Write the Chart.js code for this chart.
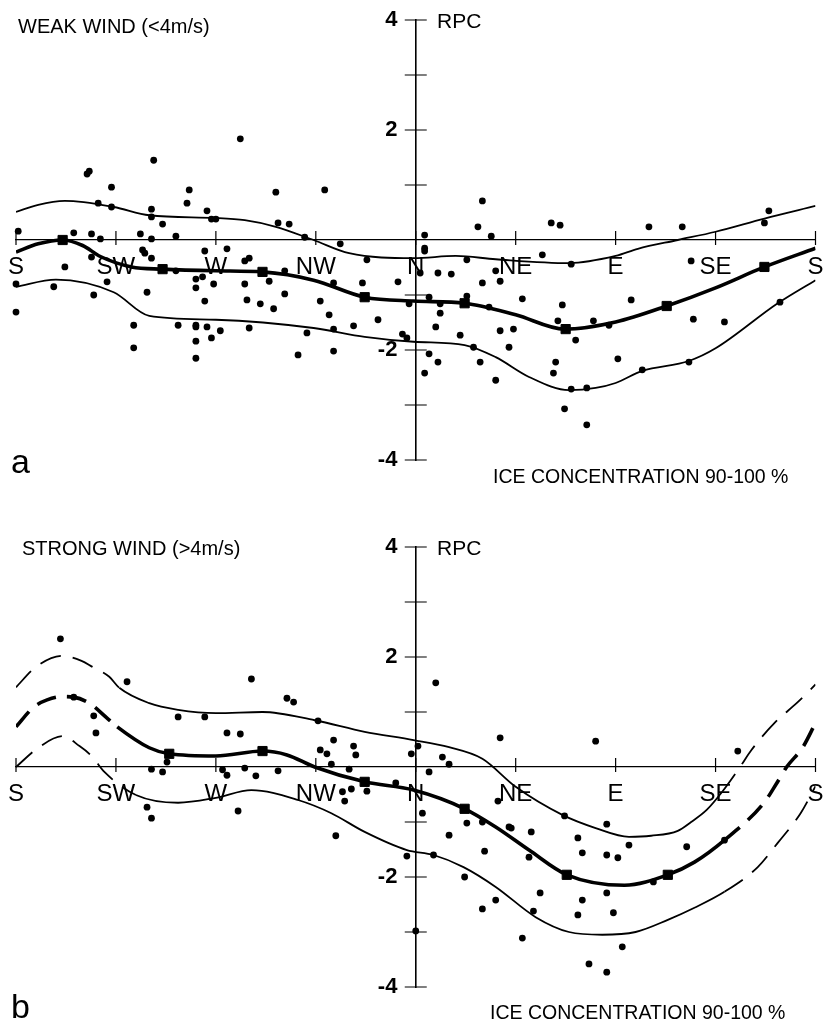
<!DOCTYPE html>
<html>
<head>
<meta charset="utf-8">
<script src="https://cdn.jsdelivr.net/npm/chart.js@4.4.1/dist/chart.umd.min.js"></script>
<style>
  body { margin: 0; background: #fff; width: 823px; height: 1025px; position: relative; overflow: hidden;
         font-family: "Liberation Sans", Arial, sans-serif; color: #000; }
  .panel { position: absolute; left: 0; }
  .panel canvas { display: block; }
  .lbl { position: absolute; line-height: 1; white-space: nowrap; }
</style>
</head>
<body>
<div class="panel" style="top:0"><canvas id="weakChart" width="823" height="500"></canvas></div>
<div class="panel" style="top:500px"><canvas id="strongChart" width="823" height="525"></canvas></div>

<div class="lbl" style="left:18px;top:16px;font-size:20px">WEAK WIND (&lt;4m/s)</div>
<div class="lbl" style="left:437px;top:10px;font-size:21px">RPC</div>
<div class="lbl" style="left:11px;top:444px;font-size:34px">a</div>
<div class="lbl" style="left:493px;top:467px;font-size:19.5px">ICE CONCENTRATION 90-100 %</div>

<div class="lbl" style="left:22px;top:538px;font-size:20px">STRONG WIND (&gt;4m/s)</div>
<div class="lbl" style="left:437px;top:537px;font-size:21px">RPC</div>
<div class="lbl" style="left:11px;top:989px;font-size:34px">b</div>
<div class="lbl" style="left:490px;top:1003px;font-size:19.5px">ICE CONCENTRATION 90-100 %</div>

<script>
// wind direction (deg, S=0 at left) vs RPC
const dirLabels = ['S', 'SW', 'W', 'NW', 'N', 'NE', 'E', 'SE', 'S'];
const yTickLabels = ['-4', '', '-2', '', '', '', '2', '', '4'];

// a: weak wind
const weakDots = [
  [101,1.84],[62,1.45],[32,1.2],[33,1.25],[43,0.96],[78,0.91],[117,0.87],[139,0.91],[37,0.67],[43,0.6],
  [77,0.67],[61,0.56],[86,0.53],[61,0.42],[66,0.29],[88,0.38],[90,0.38],[118,0.31],[123,0.29],[1,0.16],
  [26,0.13],[34,0.11],[38,0.02],[56,0.11],[61,0.02],[72,0.07],[130,0.05],[146,-0.07],
  [210,0.71],[208,0.24],[214,0.07],[184,0.09],[241,0.31],[245,0.27],[285,0.24],[300,0.24],[337,0.31],[339,0.53],[184,-0.15],
  [58,-0.24],[57,-0.18],[61,-0.33],[34,-0.31],[85,-0.2],[95,-0.16],[22,-0.49],[0,-0.8],[17,-0.85],[41,-0.76],
  [35,-1.0],[59,-0.95],[0,-1.31],[72,-0.56],[81,-0.71],[84,-0.67],[81,-0.87],[89,-0.8],[85,-1.11],[103,-0.38],
  [105,-0.33],[103,-0.8],[104,-1.09],[110,-1.16],[114,-0.75],[121,-0.56],[121,-0.98],[116,-1.25],[53,-1.55],
  [53,-1.96],[73,-1.55],[81,-1.55],[81,-1.58],[86,-1.58],[92,-1.65],[81,-1.84],[88,-1.78],[81,-2.15],[105,-1.6],
  [127,-2.09],[131,-1.69],[137,-1.11],[141,-1.36],[143,-0.78],[143,-1.62],[143,-2.02],[152,-1.56],[156,-0.78],
  [158,-0.36],[163,-1.45],[172,-0.76],[174,-1.71],[176,-1.78],[177,-1.16],
  [184,-0.2],[237,-0.27],[203,-0.36],[250,-0.44],[304,-0.38],[182,-0.6],[190,-0.6],[196,-0.62],[216,-0.56],
  [210,-0.78],[218,-0.75],[186,-1.04],[191,-1.16],[191,-1.33],[203,-1.02],[213,-1.22],[228,-1.07],[246,-1.18],
  [277,-1.09],[189,-1.58],[200,-1.73],[206,-1.95],[218,-1.65],[224,-1.62],[222,-1.95],[244,-1.47],[260,-1.47],
  [267,-1.55],[252,-1.82],[305,-1.44],[319,-1.49],[344,-1.13],[186,-2.07],[190,-2.22],[209,-2.22],[216,-2.55],
  [184,-2.42],[243,-2.22],[242,-2.42],[250,-2.71],[257,-2.69],[271,-2.16],[282,-2.36],[303,-2.22],[247,-3.07],[257,-3.36]
];
const weakMean = [
  [0,-0.22],[10,-0.07],[21,0],[30,-0.1],[38,-0.3],[52,-0.49],[66,-0.53],[90,-0.56],[111,-0.58],[134,-0.73],
  [157,-1.04],[179,-1.11],[202,-1.15],[225,-1.36],[247,-1.62],[270,-1.49],[293,-1.2],[315,-0.87],[337,-0.49],[360,-0.15]
];
const weakUpper = [
  [0,0.51],[10,0.64],[22,0.71],[44,0.6],[60,0.45],[90,0.4],[103,0.36],[117,0.24],[134,0],[150,-0.24],
  [179,-0.33],[198,-0.29],[216,-0.35],[249,-0.42],[270,-0.29],[280,-0.16],[298,0],[315,0.15],[337,0.39],[360,0.62]
];
const weakLower = [
  [0,-0.85],[18,-0.72],[44,-0.95],[60,-1.38],[90,-1.45],[134,-1.6],[157,-1.76],[179,-1.85],[202,-1.91],[216,-2.13],
  [231,-2.49],[249,-2.73],[261,-2.69],[270,-2.6],[282,-2.38],[303,-2.2],[315,-1.97],[343,-1.15],[360,-0.73]
];
const weakSquares = [[21,0],[66,-0.53],[111,-0.58],[157,-1.04],[202,-1.15],[247.5,-1.62],[293,-1.2],[337,-0.49]];

// b: strong wind
const strongDots = [
  [20,2.33],[50,1.55],[106,1.6],[122,1.25],[125,1.18],[26,1.27],[35,0.93],[36,0.62],[73,0.91],[85,0.91],
  [95,0.62],[101,0.6],[136,0.84],[143,0.49],[152,0.38],[137,0.31],[140,0.24],[153,0.22],[178,0.24],[189,1.53],
  [218,0.53],[261,0.47],[325,0.29],[181,0.38],[192,0.18],[142,0.05],[150,-0.04],[68,0.09],[61,-0.04],[66,-0.09],
  [93,-0.05],[95,-0.15],[103,-0.02],[108,-0.16],[118,-0.07],[147,-0.45],[151,-0.4],[148,-0.62],[158,-0.44],[171,-0.29],
  [59,-0.73],[61,-0.93],[100,-0.8],[144,-1.25],[176,-1.62],[180,-2.98],[195,0.05],[186,-0.09],[183,-0.84],[188,-1.6],
  [195,-1.24],[203,-1.02],[210,-1.0],[211,-1.53],[217,-0.62],[222,-1.09],[223,-1.11],[232,-1.18],[231,-1.64],[202,-2.0],
  [216,-2.42],[210,-2.58],[236,-2.29],[233,-2.62],[228,-3.11],[247,-0.89],[253,-1.29],[255,-1.56],[266,-1.04],[266,-1.6],
  [271,-1.65],[276,-1.42],[255,-2.42],[253,-2.69],[266,-2.29],[269,-2.65],[273,-3.27],[258,-3.58],[266,-3.73],[287,-2.09],
  [302,-1.45],[319,-1.33]
];
const strongMean = [
  [0,0.73],[8,1.09],[14,1.22],[21,1.28],[26,1.27],[33,1.16],[41,0.89],[45.6,0.73],[60,0.35],[69,0.24],[90,0.2],
  [111,0.29],[122,0.22],[134.5,0],[157,-0.27],[179,-0.42],[202,-0.76],[216,-1.09],[231,-1.51],[248,-1.96],[274,-2.15],
  [293.5,-1.96],[305.5,-1.73],[319,-1.33],[336.8,-0.65],[342.6,-0.29],[347,0],[354.3,0.36],[360,0.8]
];
const strongUpper = [
  [0,1.45],[9,1.82],[21,2.02],[29.5,1.93],[34.4,1.82],[42,1.64],[46.5,1.44],[60,1.16],[73,1.04],[90,0.98],
  [111,1.0],[134.5,0.85],[157,0.64],[179,0.49],[195,0.36],[210,0.15],[225,-0.36],[246,-0.87],[261,-1.11],[276,-1.27],
  [286,-1.25],[298,-1.16],[304,-1.0],[311,-0.78],[318,-0.45],[326,0],[331,0.3],[342,0.82],[351.5,1.16],[360,1.5]
];
const strongLower = [
  [0,0],[10,0.35],[21,0.56],[28.6,0.38],[34,0.2],[39.8,-0.09],[54,-0.51],[73,-0.65],[90,-0.56],[106,-0.42],
  [127,-0.6],[142,-0.84],[157,-1.18],[176,-1.51],[188,-1.6],[201.5,-1.82],[216,-2.18],[234,-2.73],[249,-3.0],[264,-3.05],
  [279,-3.0],[293.5,-2.78],[305.5,-2.56],[319,-2.27],[334,-1.82],[343,-1.38],[353.3,-0.84],[360,-0.35]
];
const strongSquares = [[69,0.24],[111,0.29],[157,-0.27],[202,-0.76],[248,-1.96],[293.5,-1.96]];

// curves in b are dashed outside this range
const solidFrom = 45, solidTo = 320;

const pts = arr => arr.map(([x, y]) => ({ x, y }));

// tick marks crossing both axes
const crossTicks = {
  id: 'crossTicks',
  afterDraw(chart) {
    const { ctx, scales: { x, y } } = chart;
    const x0 = x.getPixelForValue(180), y0 = y.getPixelForValue(0);
    ctx.save();
    ctx.strokeStyle = '#000';
    ctx.lineWidth = 1.2;
    ctx.beginPath();
    x.ticks.forEach(t => {
      const px = x.getPixelForValue(t.value);
      ctx.moveTo(px, y0 - 9); ctx.lineTo(px, y0 + 5);
    });
    y.ticks.forEach(t => {
      if (t.value === 0) return;
      const py = y.getPixelForValue(t.value);
      ctx.moveTo(x0 - 11, py); ctx.lineTo(x0 + 11, py);
    });
    ctx.stroke();
    ctx.restore();
  }
};

function renderPanel(id, dots, mean, upper, lower, squares, pad, dashEnds) {
  const isDashed = c => dashEnds && (c.p0.parsed.x < solidFrom || c.p1.parsed.x > solidTo);
  const curve = (data, width, dash) => ({
    type: 'line', data: pts(data), borderColor: '#000', borderWidth: width,
    pointRadius: 0, cubicInterpolationMode: 'monotone', fill: false,
    segment: { borderDash: c => isDashed(c) ? dash : undefined }
  });
  return new Chart(document.getElementById(id), {
    type: 'scatter',
    data: {
      datasets: [
        { data: pts(squares), pointStyle: 'rect', pointRadius: 6.5, backgroundColor: '#000', borderColor: '#000', clip: false },
        curve(mean, 3.6, [20, 11]),
        curve(upper, 1.8, [22, 12]),
        curve(lower, 1.8, [22, 12]),
        { data: pts(dots), pointRadius: 3.4, backgroundColor: '#000', borderColor: '#000', borderWidth: 0, clip: false }
      ]
    },
    options: {
      responsive: false,
      animation: false,
      layout: { padding: pad },
      plugins: { legend: { display: false }, tooltip: { enabled: false } },
      scales: {
        x: {
          type: 'linear', min: 0, max: 360, position: { y: 0 },
          ticks: {
            stepSize: 45, autoSkip: false, maxRotation: 0, padding: 13, color: '#000',
            font: { family: 'Liberation Sans', size: 24 },
            callback: v => dirLabels[Math.round(v / 45)]
          },
          grid: { drawOnChartArea: false, drawTicks: false },
          border: { color: '#000', width: 1.3 },
          afterFit: s => { s.height = 0; s.paddingLeft = 0; s.paddingRight = 0; }
        },
        y: {
          type: 'linear', min: -4, max: 4, position: { x: 180 },
          ticks: {
            stepSize: 1, padding: 0, color: '#000',
            font: { family: 'Liberation Sans', size: 22, weight: 'bold' },
            // centred axis puts labels flush on the line, so pad with spaces
            callback: v => {
              const l = yTickLabels[Math.round(v) + 4];
              return l ? l + '   ' : '';
            }
          },
          grid: { drawOnChartArea: false, drawTicks: false },
          border: { color: '#000', width: 1.6 },
          afterFit: s => { s.width = 0; s.paddingTop = 0; s.paddingBottom = 0; }
        }
      }
    },
    plugins: [crossTicks]
  });
}

renderPanel('weakChart', weakDots, weakMean, weakUpper, weakLower, weakSquares,
  { left: 16, right: 1, top: 20, bottom: 40 }, false);
renderPanel('strongChart', strongDots, strongMean, strongUpper, strongLower, strongSquares,
  { left: 16, right: 1, top: 47, bottom: 38 }, true);
</script>
</body>
</html>
